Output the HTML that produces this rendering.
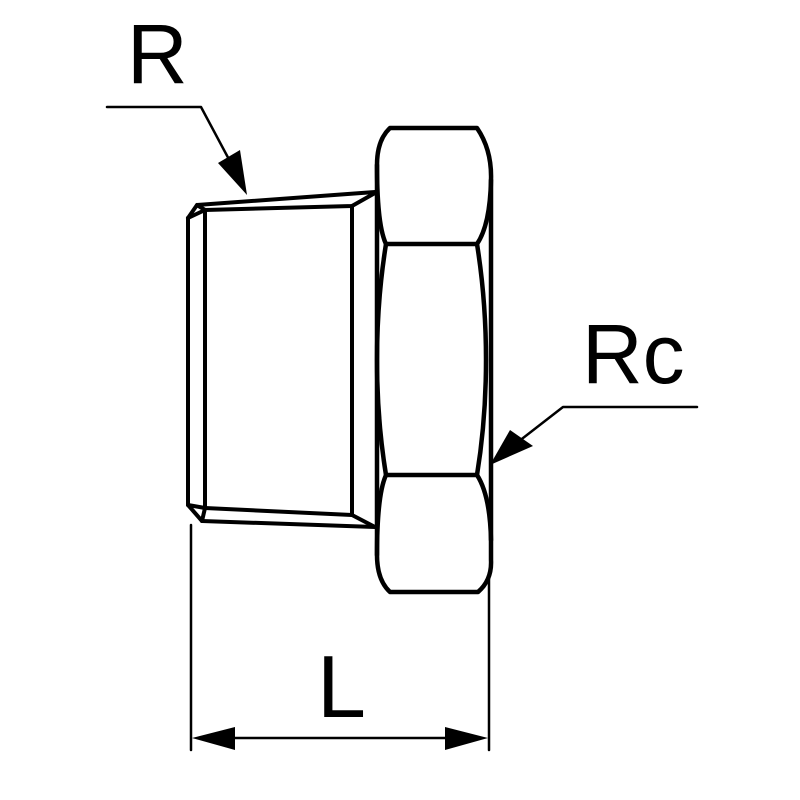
<!DOCTYPE html>
<html><head><style>html,body{margin:0;padding:0;background:#fff}svg{display:block}</style></head>
<body>
<svg width="800" height="800" viewBox="0 0 800 800" xmlns="http://www.w3.org/2000/svg">
<g fill="none" stroke="#000" stroke-linejoin="round" stroke-linecap="round">
<!-- thread body -->
<g stroke-width="4">
<path d="M188,218 L197,205 L375,192"/>
<path d="M188,218 L188,505 L202,521 L375,527"/>
<path d="M197,205 L205,210 L205,508 L202,521"/>
<path d="M188,218 L205,210"/>
<path d="M188,505 L205,508"/>
<path d="M205,210 L352,206 L375,193"/>
<path d="M205,508 L352,515 L375,527"/>
<path d="M352,206 L352,515"/>
</g>
<!-- hex -->
<g stroke-width="4.5">
<path d="M390,128 L477,128 Q492,150 491,180 L491,560 Q492,580 478,592 L390,592 Q377,580 377,555 L377,165 Q377,140 390,128 Z"/>
<path d="M377,165 Q377,225 386,244 L477,244 Q490,225 491,180"/>
<path d="M377,555 Q377,495 386,475 L477,475 Q490,495 491,540"/>
<path d="M386,244 Q377,300 377,360 Q377,420 386,475"/>
<path d="M477,244 Q486,300 486,360 Q486,420 477,475"/>
</g>
<!-- leaders -->
<g stroke-width="2.5">
<path d="M107,107 L201,107 L240,180"/>
<path d="M697,407 L563,407 L505,452"/>
<path d="M191,525 L191,750"/>
<path d="M489,578 L489,750"/>
<path d="M225,738 L455,738"/>
</g>
</g>
<g fill="#000">
<polygon points="247,195 218,163 240,150"/>
<polygon points="490,465 510,430 533,446"/>
<polygon points="192,738 235,727 235,750"/>
<polygon points="488,738 445,727 445,750"/>
</g>
<g font-family="Liberation Sans, sans-serif" fill="#000">
<text x="127" y="83" font-size="84">R</text>
<text x="582" y="383" font-size="84">Rc</text>
<text x="317" y="717" font-size="88">L</text>
</g>
</svg>
</body></html>
